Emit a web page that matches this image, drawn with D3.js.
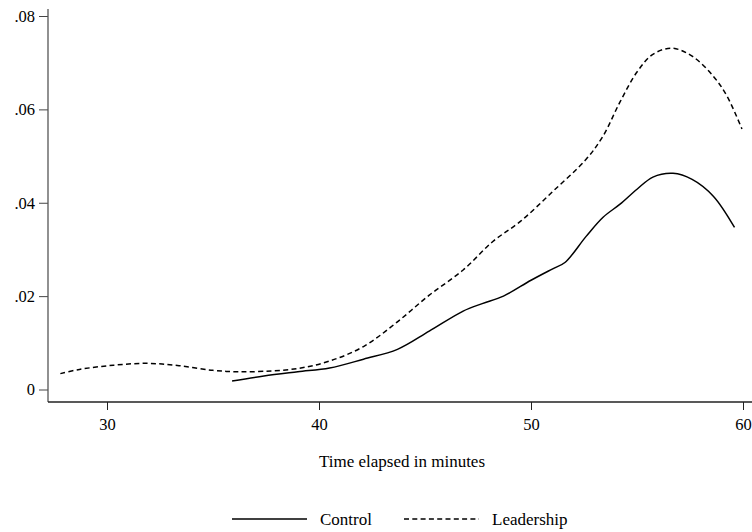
<!DOCTYPE html>
<html>
<head>
<meta charset="utf-8">
<script src="https://cdn.jsdelivr.net/npm/d3@7"></script>
<style>
  body { margin: 0; background: #fff; }
  svg text { font-family: "Liberation Serif", "DejaVu Serif", serif; fill: #000; }
</style>
</head>
<body>
<svg id="chart" width="752" height="532"></svg>
<script>
// minutes vs. density
const leadershipX = [27.8, 28.7, 30.3, 31.9, 33.4, 35.0, 36.1, 37.4, 39.0, 40.5, 42.1, 43.7, 45.2,
                     46.8, 48.2, 49.5, 51.0, 52.6, 53.4, 54.2, 55.0, 55.75, 56.65, 57.6, 58.6,
                     59.25, 59.95];
const leadershipY = [.0034, .0043, .0052, .0056, .0051, .0041, .0038, .0039, .0045, .0061, .0092,
                     .0145, .0202, .0256, .0317, .0360, .0423, .0493, .0543, .0616, .0680, .0718,
                     .0731, .0714, .0671, .0628, .0558];
const controlX = [35.9, 37.4, 39.0, 40.5, 42.1, 43.7, 45.2, 46.8, 47.7, 48.7, 50.0, 51.0, 51.6,
                  52.6, 53.4, 54.2, 55.0, 55.75, 56.7, 57.6, 58.6, 59.6];
const controlY = [.0018, .0029, .0038, .0046, .0065, .0086, .0125, .0168, .0184, .0200, .0234,
                  .0258, .0272, .0328, .0369, .0397, .0429, .0455, .0463, .0450, .0414, .0347];
const xTicks = [30, 40, 50, 60];
const yTicks = [0, .02, .04, .06, .08];
const yTickLabels = ["0", ".02", ".04", ".06", ".08"];
const seriesNames = ["Control", "Leadership"];

const svg = d3.select('#chart');
const plotLeft = 48, plotBottom = 402;

const x = d3.scaleLinear().domain([30, 60]).range([107, 743]);
const y = d3.scaleLinear().domain([0, .08]).range([389.5, 16]);

const line = d3.line().x(d => x(d[0])).y(d => y(d[1])).curve(d3.curveCatmullRom.alpha(0.5));
const toPts = (xs, ys) => xs.map((v, i) => [v, ys[i]]);

// y axis
const yAxis = svg.append('g')
  .attr('transform', `translate(${plotLeft},0)`)
  .call(d3.axisLeft(y).tickValues(yTicks).tickSize(9).tickPadding(4)
        .tickFormat((d, i) => yTickLabels[i]));
yAxis.select('.domain').remove();
yAxis.append('line').attr('x1', 0).attr('x2', 0).attr('y1', 9).attr('y2', plotBottom)
  .attr('stroke', '#555').attr('stroke-width', 1.3);
yAxis.selectAll('.tick line').attr('stroke', '#444');
yAxis.selectAll('.tick text').style('font-size', '16.5px');

// x axis
const xAxis = svg.append('g')
  .attr('transform', `translate(0,${plotBottom})`)
  .call(d3.axisBottom(x).tickValues(xTicks).tickSize(8).tickPadding(8));
xAxis.select('.domain').remove();
xAxis.append('line').attr('x1', plotLeft).attr('x2', 752).attr('y1', 0).attr('y2', 0)
  .attr('stroke', '#222').attr('stroke-width', 1.3);
xAxis.selectAll('.tick line').attr('stroke', '#222');
xAxis.selectAll('.tick text').style('font-size', '16.5px');

svg.append('text').attr('x', 402).attr('y', 467).attr('text-anchor', 'middle')
  .style('font-size', '17px').text('Time elapsed in minutes');

// curves
svg.append('path').datum(toPts(leadershipX, leadershipY))
  .attr('d', line).attr('fill', 'none').attr('stroke', '#000')
  .attr('stroke-width', 1.5).attr('stroke-dasharray', '5,3.3');
svg.append('path').datum(toPts(controlX, controlY))
  .attr('d', line).attr('fill', 'none').attr('stroke', '#000')
  .attr('stroke-width', 1.5);

// legend
const legend = svg.append('g').attr('transform', 'translate(0,519)');
const items = [
  { name: seriesNames[0], x0: 232, dash: null },
  { name: seriesNames[1], x0: 404, dash: '5,3.3' }
];
items.forEach(it => {
  legend.append('line').attr('x1', it.x0).attr('x2', it.x0 + 75).attr('y1', 0).attr('y2', 0)
    .attr('stroke', '#000').attr('stroke-width', 1.5)
    .attr('stroke-dasharray', it.dash);
  legend.append('text').attr('x', it.x0 + 88).attr('y', 5.5)
    .style('font-size', '17px').text(it.name);
});
</script>
</body>
</html>
